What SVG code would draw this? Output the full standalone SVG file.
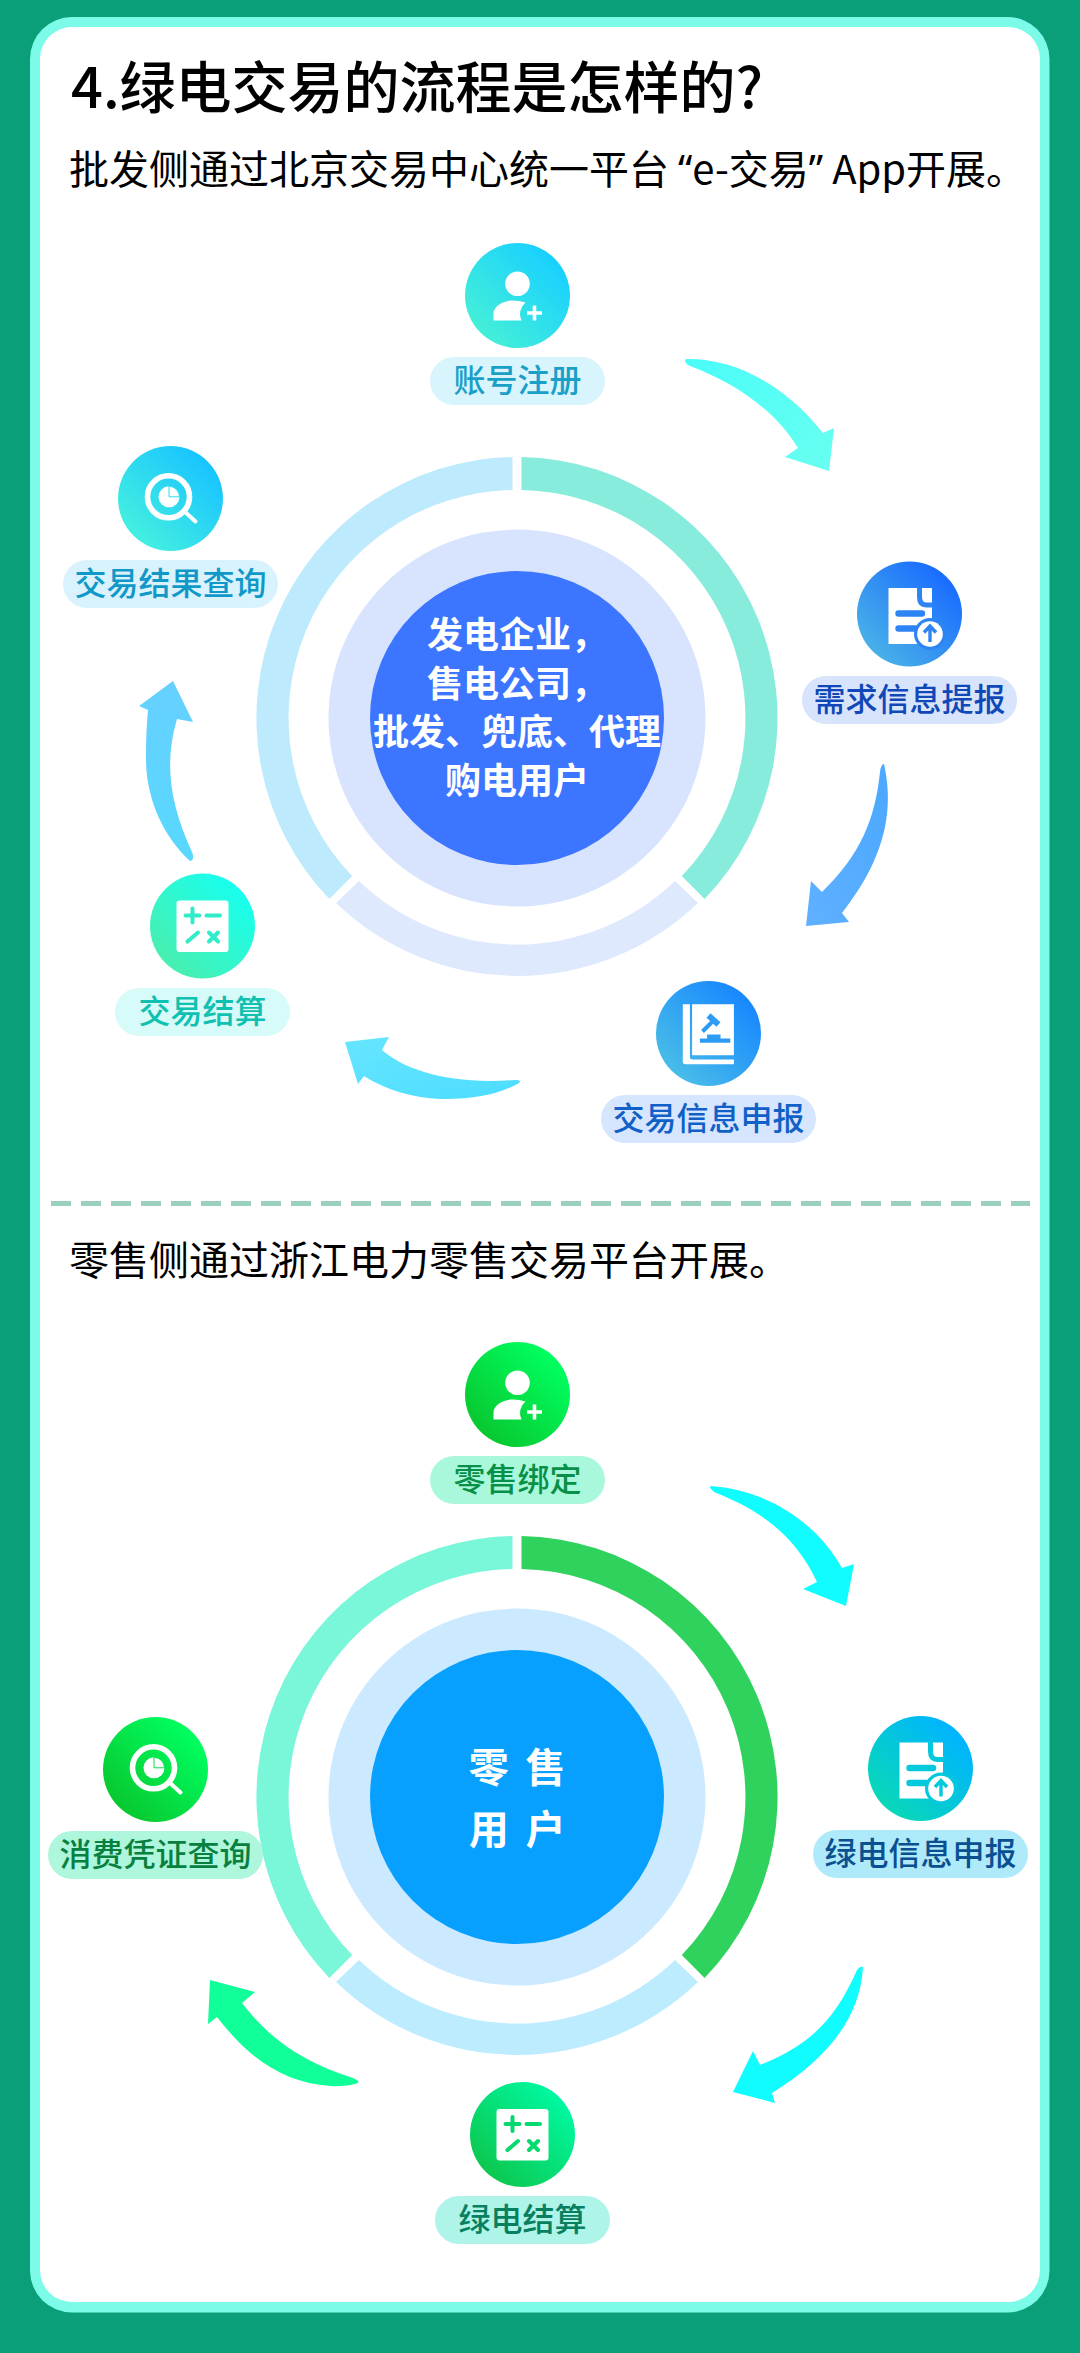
<svg xmlns="http://www.w3.org/2000/svg" width="1080" height="2353" viewBox="0 0 1080 2353">
<style>
text{font-family:"Noto Sans CJK SC","Noto Sans",sans-serif}
.title{font-size:56px;font-weight:500;fill:#000}
.sub{font-size:40px;fill:#000}
.q{font-family:"Noto Sans",sans-serif}
.lab{font-size:32px;font-weight:500;text-anchor:middle}
.mid{font-size:36px;font-weight:700;fill:#fff;text-anchor:middle}
.big{font-size:40px;letter-spacing:3.75px}
.w{fill:#fff}
.s{fill:none;stroke:currentColor;stroke-linecap:round}
.c{fill:currentColor}
</style>
<defs>
<linearGradient id="gA1" x1="0" y1="1" x2="1" y2="0"><stop offset=".15" stop-color="#44efd8"/><stop offset=".85" stop-color="#18d0ff"/></linearGradient>
<linearGradient id="gA2" x1="0" y1="1" x2="1" y2="0"><stop offset=".15" stop-color="#48b0e8"/><stop offset=".85" stop-color="#1a6cff"/></linearGradient>
<linearGradient id="gA3" x1="0" y1="1" x2="1" y2="0"><stop offset=".15" stop-color="#48bce8"/><stop offset=".85" stop-color="#1888ff"/></linearGradient>
<linearGradient id="gA4" x1="0" y1="1" x2="1" y2="0"><stop offset=".15" stop-color="#48efb0"/><stop offset=".85" stop-color="#18ffee"/></linearGradient>
<linearGradient id="gA5" x1="0" y1="1" x2="1" y2="0"><stop offset=".15" stop-color="#44efe0"/><stop offset=".85" stop-color="#18c4ff"/></linearGradient>
<linearGradient id="gB1" x1="0" y1="1" x2="1" y2="0"><stop offset=".15" stop-color="#08c830"/><stop offset=".85" stop-color="#00ff60"/></linearGradient>
<linearGradient id="gB2" x1="0" y1="1" x2="1" y2="0"><stop offset=".15" stop-color="#08d8b8"/><stop offset=".85" stop-color="#00b4ff"/></linearGradient>
<linearGradient id="gB3" x1="0" y1="1" x2="1" y2="0"><stop offset=".15" stop-color="#0cc850"/><stop offset=".85" stop-color="#00f8a0"/></linearGradient>
<linearGradient id="arA1" x1="0" y1="0" x2="1" y2="1"><stop offset="0" stop-color="#4afdf8"/><stop offset="1" stop-color="#68fff0"/></linearGradient>
<linearGradient id="arA2" x1="1" y1="0" x2="0" y2="1"><stop offset="0" stop-color="#4aa8ff"/><stop offset="1" stop-color="#60b0ff"/></linearGradient>
<linearGradient id="arA3" x1="1" y1="1" x2="0" y2="0"><stop offset="0" stop-color="#4cdcff"/><stop offset="1" stop-color="#66e6ff"/></linearGradient>
<linearGradient id="arA4" x1="0" y1="1" x2="0" y2="0"><stop offset="0" stop-color="#58d8ff"/><stop offset="1" stop-color="#66d0ff"/></linearGradient>
<g id="iUser">
<circle class="w" cx="0" cy="-11.7" r="12.3"/>
<path class="w" d="M-24 25V18C-24 10-13 5-5 5Q2 5 8 7A15 15 0 0 0 4 25Z"/>
<path class="w" d="M17 10V25M9.5 17.5H24.5" fill="none" stroke="#fff" stroke-width="3.6"/>
</g>
<g id="iDoc">
<path class="w" d="M-21 -26H22.5V30H-21Z"/>
<path d="M10 -27V-17Q10 -9 17 -9H24" fill="none" stroke="currentColor" stroke-width="5"/>
<path class="s" d="M-11 -.5H12.5M-11 14.5H6" stroke-width="6.4"/>
<circle class="c" cx="20.5" cy="20" r="16"/>
<circle class="w" cx="20.5" cy="20" r="12.8"/>
<path class="s" d="M20.5 28V13M14.5 18.5L20.5 12L26.5 18.5" stroke-width="3.4" style="stroke-linecap:butt"/>
</g>
<g id="iBook">
<path class="w" d="M-25.7 -29.3H-18.6V21.7H25.4V-29.3H-16.4V21.7H-18.6V24Q-18.6 26-16 26H25.4V30.7H-23Q-25.7 30.7-25.7 28Z"/>
<path d="M0 -18L10 -9" stroke="currentColor" stroke-width="6" fill="none"/>
<path d="M4 -12L-6 -2" stroke="currentColor" stroke-width="4" fill="none"/>
<path class="c" d="M-1.4 1H12V5H21.8V9.3H-8.6V5H-1.4Z"/>
</g>
<g id="iCalc">
<rect class="w" x="-26" y="-25.6" width="52" height="51.6" rx="3"/>
<path class="s" stroke-width="4" d="M-17 -10.4H-3M-10 -17.5V-3.5M4 -10.4H17.5M-15 15.6L-4.5 6.5M6.5 6.5L15.5 15.5M15.5 6.5L6.5 15.5"/>
</g>
<g id="iFind">
<circle cx="-2" cy="-1.7" r="21" fill="none" stroke="#fff" stroke-width="5.6"/>
<circle class="w" cx="-1.5" cy="-1.7" r="10.5"/>
<path d="M-1.5 -1.7V-12.2A10.5 10.5 0 0 1 9 -1.7Z" fill="none" stroke="currentColor" stroke-width="1"/>
<path d="M14 13L25 23" fill="none" stroke="#fff" stroke-width="4" stroke-linecap="round"/>
</g>
</defs>

<rect width="1080" height="2353" fill="#0a9f78"/>
<rect x="30" y="17" width="1019.500" height="2295.500" rx="42" fill="#7cfce8"/>
<rect x="40" y="27" width="1000" height="2275" rx="32" fill="#fff"/>

<text class="title" x="71" y="108">4.绿电交易的流程是怎样的?</text>
<text class="sub" x="69" y="184">批发侧通过北京交易中心统一平台 <tspan class="q">“</tspan>e-交易<tspan class="q">”</tspan> App开展。</text>
<path d="M51 1203.500H1030" fill="none" stroke="#9bd0bc" stroke-width="5" stroke-dasharray="20 10"/>
<text class="sub" x="69" y="1275">零售侧通过浙江电力零售交易平台开展。</text>

<g id="ring-wholesale">
<path fill="#88ecdc" d="M521.500 457.040A261 261 0 0 1 704.600 899L681.800 876A228 228 0 0 0 521.500 490.040Z"/>
<path fill="#dfe9fe" d="M698 903A261 261 0 0 1 336 903L359 881A228 228 0 0 0 675 881Z"/>
<path fill="#bdeafc" d="M329.400 899A261 261 0 0 1 512.500 457.040V490.040A228 228 0 0 0 352.200 876Z"/>
<circle cx="517" cy="718" r="188.500" fill="#d8e4fe"/>
<circle cx="517" cy="718" r="147" fill="#3c75ff"/>
<text class="mid" x="517" y="648">发电企业，</text>
<text class="mid" x="517" y="697">售电公司，</text>
<text class="mid" x="517" y="745">批发、兜底、代理</text>
<text class="mid" x="517" y="794">购电用户</text>
</g>

<g id="ring-retail">
<path fill="#30d25e" d="M521.500 1536.040A261 261 0 0 1 704.600 1978L681.800 1955A228 228 0 0 0 521.500 1569.040Z"/>
<path fill="#bcecfe" d="M698 1982A261 261 0 0 1 336 1982L359 1960A228 228 0 0 0 675 1960Z"/>
<path fill="#7af6d8" d="M329.400 1978A261 261 0 0 1 512.500 1536.040V1569.040A228 228 0 0 0 352.200 1955Z"/>
<circle cx="517" cy="1797" r="188.500" fill="#cceaff"/>
<circle cx="517" cy="1797" r="147" fill="#08a0ff"/>
<text class="mid big" x="519" y="1782">零 售</text>
<text class="mid big" x="519" y="1844">用 户</text>
</g>

<g id="connectors">
<path fill="url(#arA1)" d="M686 359C735 358 785 385 823 433L834 428L829 471L785 457L798 448C775 410 735 383 690 366Q683 362 686 359Z"/>
<path fill="url(#arA2)" d="M884 764C892 800 892 850 842 913L849 922L806 926L811 881L822 892C860 855 875 820 880 772Q881 764 884 764Z"/>
<path fill="url(#arA3)" d="M519 1083Q490 1100 440 1099C415 1098 385 1090 364 1076L358 1084L345 1042L389 1037L382 1050C405 1070 450 1085 515 1080Q522 1080 519 1083Z"/>
<path fill="url(#arA4)" d="M190 861C165 838 145 800 146 755Q146 730 148 710L139 706L173 681L193 722L177 719C165 760 168 800 192 852Q195 860 190 861Z"/>
<path fill="#10fcff" d="M711 1486C765 1490 815 1520 842 1568L854 1564L846 1606L803 1589L817 1582C795 1535 760 1510 714 1492Q708 1487 711 1486Z"/>
<path fill="#10fcff" d="M863 1967C860 2020 825 2060 772 2093L775 2103L733 2092L753 2051L760 2065C810 2045 835 2020 857 1970Q860 1966 863 1967Z"/>
<path fill="#10ff98" d="M358 2083Q345 2087 330 2086C285 2083 250 2060 217 2017L208 2024L210 1980L255 1992L242 2003C270 2040 305 2063 353 2078Q360 2081 358 2083Z"/>
</g>

<g id="n-account">
<circle cx="517.500" cy="295.500" r="52.500" fill="url(#gA1)"/>
<use href="#iUser" x="517.500" y="295.500" color="#2ce0e4"/>
<rect x="430" y="357" width="175" height="48" rx="24" fill="#d8f4fc"/>
<text class="lab" x="517.500" y="392" fill="#1aa0c8">账号注册</text>
</g>
<g id="n-demand">
<circle cx="909.500" cy="614" r="52.500" fill="url(#gA2)"/>
<use href="#iDoc" x="909.500" y="614" color="#2f84f4"/>
<rect x="802" y="676" width="215" height="48" rx="24" fill="#d8e4fc"/>
<text class="lab" x="909.500" y="711" fill="#1048b8">需求信息提报</text>
</g>
<g id="n-info">
<circle cx="708.500" cy="1033.500" r="52.500" fill="url(#gA3)"/>
<use href="#iBook" x="708.500" y="1033.500" color="#2e9cf4"/>
<rect x="601" y="1095" width="215" height="48" rx="24" fill="#d6e6fe"/>
<text class="lab" x="708.500" y="1130" fill="#1060c8">交易信息申报</text>
</g>
<g id="n-settle">
<circle cx="202.500" cy="926" r="52.500" fill="url(#gA4)"/>
<use href="#iCalc" x="202.500" y="926" color="#30ecc8"/>
<rect x="115" y="988" width="175" height="48" rx="24" fill="#d6fbf8"/>
<text class="lab" x="202.500" y="1023" fill="#10c0b0">交易结算</text>
</g>
<g id="n-query">
<circle cx="170.500" cy="498.500" r="52.500" fill="url(#gA5)"/>
<use href="#iFind" x="170.500" y="498.500" color="#2cdcee"/>
<rect x="63" y="560" width="215" height="48" rx="24" fill="#d8f2fe"/>
<text class="lab" x="170.500" y="595" fill="#1098c8">交易结果查询</text>
</g>

<g id="n-bind">
<circle cx="517.500" cy="1394.500" r="52.500" fill="url(#gB1)"/>
<use href="#iUser" x="517.500" y="1394.500" color="#06e04a"/>
<rect x="430" y="1456" width="175" height="48" rx="24" fill="#aaf8dc"/>
<text class="lab" x="517.500" y="1491" fill="#089048">零售绑定</text>
</g>
<g id="n-green-info">
<circle cx="920.500" cy="1768.500" r="52.500" fill="url(#gB2)"/>
<use href="#iDoc" x="920.500" y="1768.500" color="#04c8dc"/>
<rect x="813" y="1830" width="215" height="48" rx="24" fill="#aeeafa"/>
<text class="lab" x="920.500" y="1865" fill="#0a5090">绿电信息申报</text>
</g>
<g id="n-green-settle">
<circle cx="522.500" cy="2134.500" r="52.500" fill="url(#gB3)"/>
<use href="#iCalc" x="522.500" y="2134.500" color="#08d870"/>
<rect x="435" y="2196" width="175" height="48" rx="24" fill="#aef4e8"/>
<text class="lab" x="522.500" y="2231" fill="#088060">绿电结算</text>
</g>
<g id="n-voucher">
<circle cx="155.500" cy="1769.500" r="52.500" fill="url(#gB1)"/>
<use href="#iFind" x="155.500" y="1769.500" color="#06e04a"/>
<rect x="48" y="1831" width="215" height="48" rx="24" fill="#aef6dc"/>
<text class="lab" x="155.500" y="1866" fill="#088040">消费凭证查询</text>
</g>
</svg>
